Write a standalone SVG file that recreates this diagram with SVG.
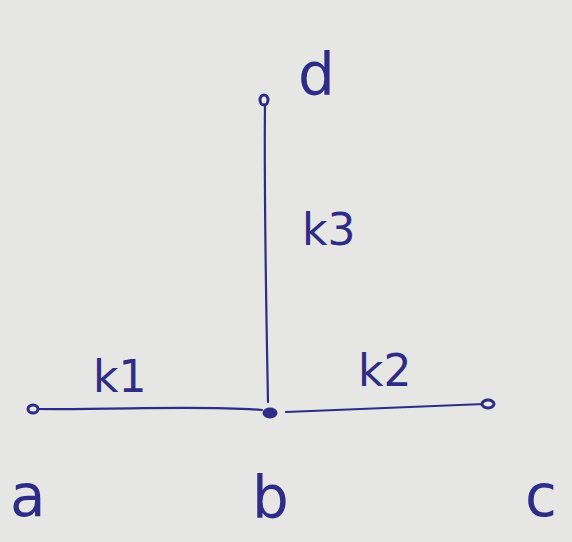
<svg xmlns="http://www.w3.org/2000/svg" width="572" height="542" viewBox="0 0 572 542">
<style>
.edge{stroke:#2e2c86;stroke-width:2.2;fill:none;stroke-linecap:round}
.node{fill:#e9e9e7;stroke:#2e2c86;stroke-width:3}
.lbl{font-family:"DejaVu Sans","Liberation Sans",sans-serif;fill:#2e2c86;font-size:58px}
.w{font-family:"DejaVu Sans","Liberation Sans",sans-serif;fill:#2e2c86;font-size:44px}
</style>
<rect width="572" height="542" fill="#e6e6e4"/>
<g id="connectors">
<path class="edge" d="M36,409 C120,410 200,405 262,410"/>
<path class="edge" d="M286,412 C350,409 420,407 484,404"/>
<path class="edge" d="M265,103 C264,200 266,300 268,402"/>
</g>
<g id="a"><ellipse class="node" cx="33" cy="409" rx="5" ry="4"/><text class="lbl" x="10" y="516">a</text></g>
<g id="b"><ellipse class="node" cx="270" cy="413" rx="6" ry="4" style="fill:#2e2c86"/><text class="lbl" x="252" y="518">b</text></g>
<g id="c"><ellipse class="node" cx="488" cy="404" rx="6" ry="4"/><text class="lbl" x="525" y="516">c</text></g>
<g id="d"><ellipse class="node" cx="264" cy="100" rx="4" ry="5"/><text class="lbl" x="298" y="95">d</text></g>
<g id="labels">
<text class="w" x="93" y="392">k1</text>
<text class="w" x="358" y="386">k2</text>
<text class="w" x="302" y="245">k3</text>
</g>
</svg>
